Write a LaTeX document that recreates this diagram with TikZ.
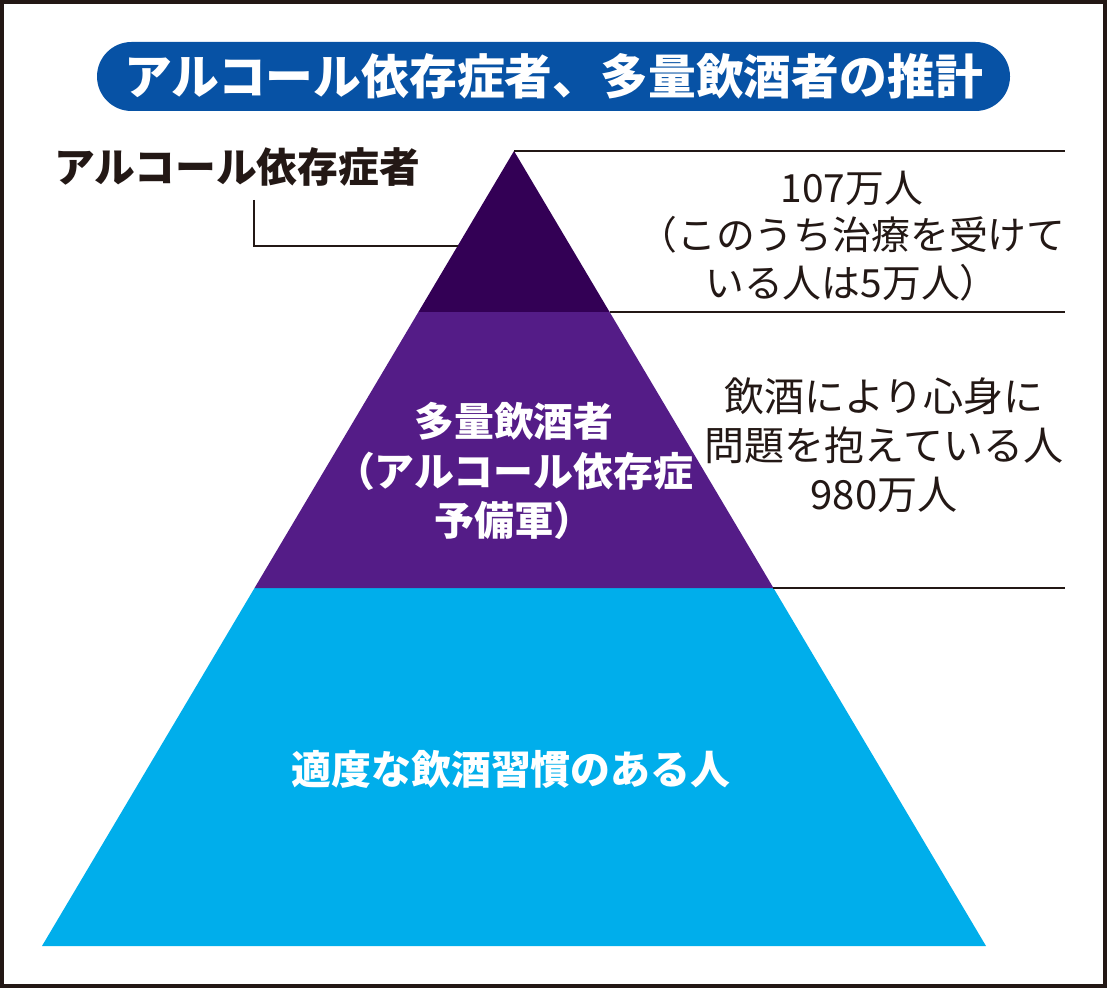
\documentclass[tikz,border=0pt]{standalone}
\usepackage{fontspec}
\setmainfont{Noto Sans CJK JP}
\usepackage{tikz}
\usetikzlibrary{calc}
\definecolor{alcdark}{HTML}{330055}
\definecolor{alcmid}{HTML}{541C87}
\definecolor{alccyan}{HTML}{00AEEB}
\definecolor{alcblue}{HTML}{0752A5}
\definecolor{alcink}{HTML}{231815}

\begin{document}
\begin{tikzpicture}[
  leader/.style={draw=alcink, line width=1.1pt},
  bandlabel/.style={font=\bfseries\fontsize{22.7}{28.3}\selectfont, text=white, align=center},
  sidenote/.style={text=alcink, align=center}
]
\useasboundingbox (0,0) rectangle (22.14,19.76);

% Frame
\draw[alcink, line width=2.3pt] (0.04,0.04) rectangle (22.10,19.72);

% Title
\node[font=\bfseries\fontsize{27.2}{30}\selectfont, text=white, fill=alcblue,
  rounded corners=0.69cm, minimum width=18.26cm, minimum height=1.38cm, inner sep=0pt]
  (title) at (11.07,18.23) {アルコール依存症者、多量飲酒者の推計};

% Pyramid corners and band edges
\coordinate (apex) at (10.28,16.74);
\coordinate (bl) at (0.84,0.84);
\coordinate (br) at (19.72,0.84);
\coordinate (ml1) at ($(apex)!0.2025!(bl)$);
\coordinate (mr1) at ($(apex)!0.2025!(br)$);
\coordinate (ml2) at ($(apex)!0.5497!(bl)$);
\coordinate (mr2) at ($(apex)!0.5497!(br)$);

\fill[alccyan] (ml2) -- (mr2) -- (br) -- (bl) -- cycle;
\fill[alcmid] (ml1) -- (mr1) -- (mr2) -- (ml2) -- cycle;
\fill[alcdark] (apex) -- (mr1) -- (ml1) -- cycle;

% Rules on the right
\coordinate (rend) at (21.30,16.74);
\draw[leader] (apex) -- (rend);
\draw[leader] (mr1) -- (rend |- mr1);
\draw[leader] (mr2) -- (rend |- mr2);

% Leader from the top label
\coordinate (ltop) at (5.08,15.76);
\coordinate (lhit) at ($(apex)!0.1195!(bl)$);
\draw[leader] (ltop) |- (lhit);

% Labels
\node[font=\bfseries\fontsize{23.2}{28}\selectfont, text=alcink] (toplabel) at (4.74,16.42) {アルコール依存症者};
\node[sidenote, font=\fontsize{22.1}{27.2}\selectfont] (topnote) at (17.04,15.04) {107万人\\（このうち治療を受けて\\いる人は5万人）};
\node[sidenote, font=\fontsize{22.8}{27.8}\selectfont] (midnote) at (17.68,10.86) {飲酒により心身に\\問題を抱えている人\\980万人};
\node[bandlabel] (midlabel) at (10.28,10.34) {多量飲酒者\\（アルコール依存症\\予備軍）};
\node[bandlabel] (baselabel) at (10.22,4.38) {適度な飲酒習慣のある人};

\end{tikzpicture}
\end{document}
